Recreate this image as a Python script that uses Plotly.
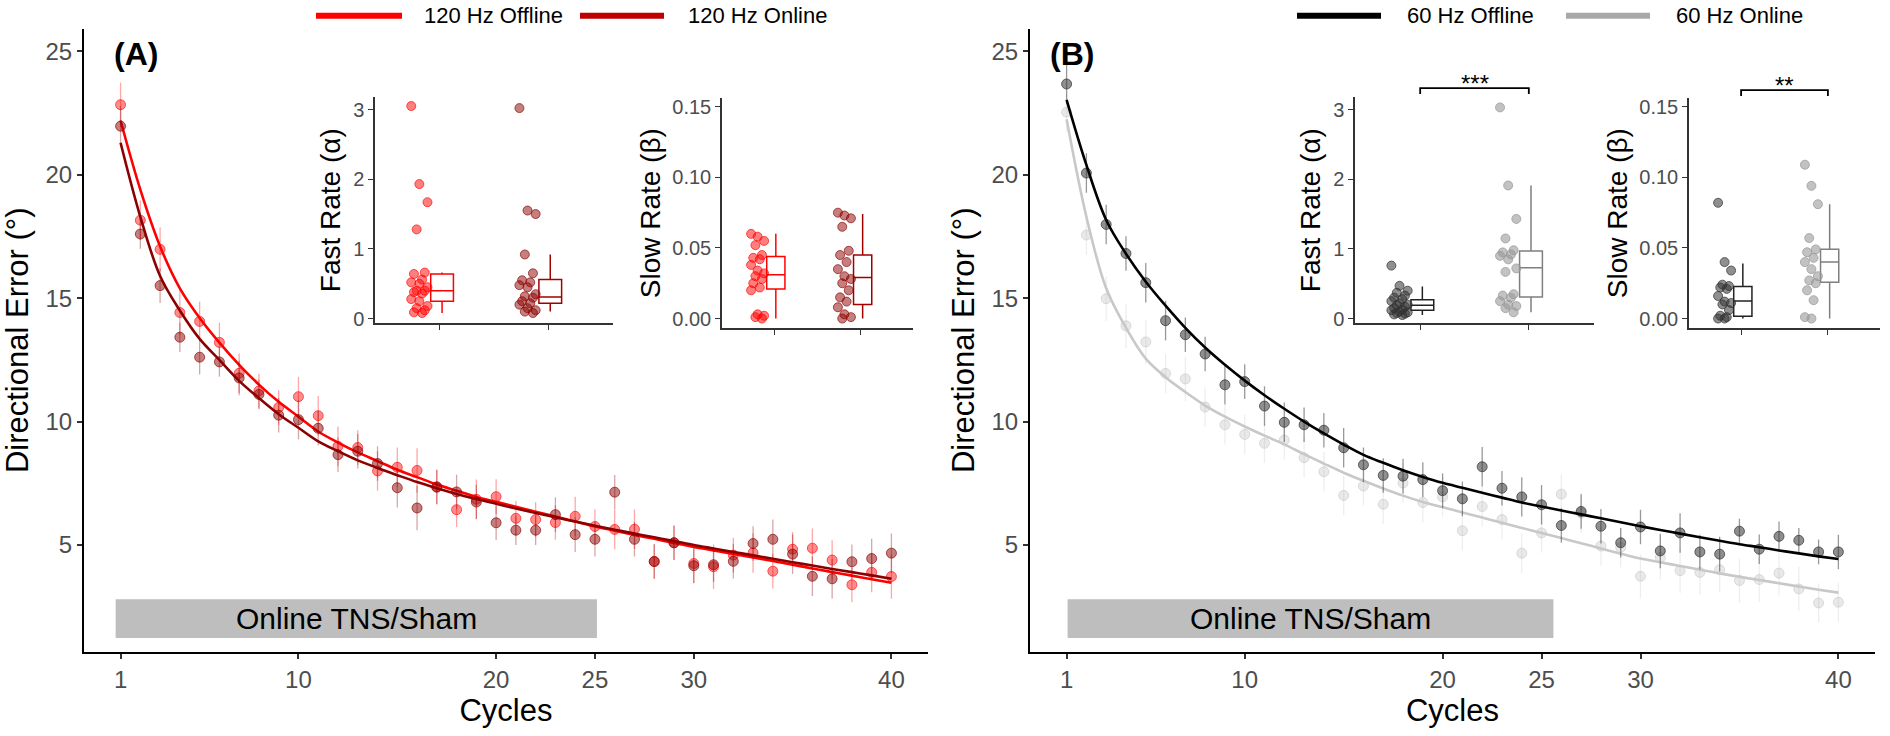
import plotly.graph_objects as go

# ---------------- data ----------------
cycles = list(range(1, 41))

# Panel A: 120 Hz
a_off_mean = [22.84, 18.16, 16.98, 14.42, 14.06, 13.21, 11.96, 11.24, 10.57, 11.01,
              10.24, 9.00, 8.95, 8.00, 8.15, 8.02, 7.36, 6.43, 6.85, 6.96,
              6.08, 6.03, 5.91, 6.16, 5.75, 5.63, 5.64, 4.33, 5.09, 4.25,
              4.12, 4.59, 4.68, 3.94, 4.83, 4.87, 4.39, 3.39, 3.89, 3.72]
a_off_se = [0.9, 0.8, 0.9, 0.9, 0.8, 0.8, 0.8, 0.7, 0.7, 0.8,
            0.8, 0.8, 0.7, 0.8, 0.8, 0.9, 0.7, 0.7, 0.8, 0.7,
            0.7, 0.7, 0.7, 0.8, 0.7, 0.8, 0.8, 0.7, 0.7, 0.8,
            0.9, 0.7, 0.8, 0.7, 0.7, 0.8, 0.8, 0.7, 0.8, 0.9]
a_on_mean = [21.97, 17.60, 15.51, 13.42, 12.61, 12.42, 11.77, 11.10, 10.26, 10.08,
             9.73, 8.66, 8.80, 8.30, 7.32, 6.50, 7.34, 7.15, 6.74, 5.90,
             5.60, 5.60, 6.23, 5.42, 5.23, 7.14, 5.23, 4.33, 5.09, 4.16,
             4.20, 4.34, 5.06, 5.23, 4.63, 3.73, 3.63, 4.32, 4.45, 4.67]
a_on_se = [0.8, 0.6, 0.7, 0.6, 0.7, 0.6, 0.7, 0.6, 0.7, 0.8,
           0.7, 0.7, 0.7, 0.7, 0.8, 0.9, 0.7, 0.7, 0.7, 0.7,
           0.6, 0.6, 0.7, 0.7, 0.7, 0.7, 0.7, 0.7, 0.7, 0.7,
           0.7, 0.7, 0.7, 0.8, 0.8, 0.8, 0.8, 0.7, 0.8, 0.8]
a_off_fit = [22.2, 19.4, 17.1, 15.4, 14.2, 13.2, 12.3, 11.5, 10.8, 10.2,
             9.6, 9.15, 8.75, 8.4, 8.05, 7.75, 7.45, 7.2, 6.95, 6.75,
             6.55, 6.35, 6.15, 5.95, 5.75, 5.58, 5.41, 5.25, 5.08, 4.92,
             4.78, 4.64, 4.49, 4.35, 4.2, 4.05, 3.9, 3.76, 3.61, 3.47]
a_on_fit = [21.3, 18.3, 15.9, 14.5, 13.35, 12.5, 11.65, 10.95, 10.3, 9.75,
            9.2, 8.8, 8.43, 8.12, 7.83, 7.55, 7.3, 7.07, 6.86, 6.67,
            6.48, 6.3, 6.12, 5.95, 5.78, 5.62, 5.46, 5.31, 5.16, 5.0,
            4.86, 4.72, 4.58, 4.44, 4.3, 4.17, 4.03, 3.9, 3.77, 3.63]

# Panel B: 60 Hz
b_off_mean = [23.68, 20.07, 17.99, 16.81, 15.63, 14.09, 13.52, 12.74, 11.49, 11.62,
              10.63, 9.97, 9.87, 9.65, 8.94, 8.25, 7.82, 7.79, 7.65, 7.20,
              6.87, 8.17, 7.30, 6.95, 6.63, 5.79, 6.36, 5.76, 5.09, 5.73,
              4.76, 5.49, 4.72, 4.63, 5.56, 4.83, 5.35, 5.19, 4.72, 4.72]
b_off_se = [0.8, 0.8, 0.8, 0.7, 0.8, 0.8, 0.7, 0.7, 0.8, 0.7,
            0.8, 0.8, 0.7, 0.7, 0.8, 0.7, 0.7, 0.7, 0.7, 0.7,
            0.7, 0.8, 0.7, 0.8, 0.8, 0.7, 0.7, 0.7, 0.6, 0.7,
            0.7, 0.8, 0.7, 0.7, 0.5, 0.6, 0.6, 0.5, 0.5, 0.7]
b_on_mean = [22.54, 17.56, 14.98, 13.88, 13.23, 11.95, 11.73, 10.59, 9.87, 9.48,
             9.12, 9.25, 8.54, 7.97, 7.01, 7.39, 6.65, 7.51, 6.72, 6.95,
             5.58, 6.56, 6.03, 4.67, 5.49, 7.06, 6.30, 4.96, 4.90, 3.73,
             4.49, 3.96, 3.89, 4.00, 3.56, 3.60, 3.86, 3.22, 2.65, 2.68]
b_on_se = [0.8, 0.8, 0.9, 0.9, 0.9, 0.8, 0.9, 0.8, 0.8, 0.8,
           0.8, 0.8, 0.8, 0.8, 0.8, 0.8, 0.8, 0.8, 0.8, 0.8,
           0.8, 0.8, 0.8, 0.8, 0.8, 0.8, 0.8, 0.8, 0.8, 0.9,
           0.9, 0.9, 0.9, 0.9, 0.9, 0.9, 0.9, 0.9, 0.8, 0.8]
b_off_fit = [23.04, 20.4, 18.17, 16.8, 15.67, 14.7, 13.8, 13.0, 12.3, 11.66,
             11.07, 10.52, 10.0, 9.52, 9.07, 8.65, 8.33, 8.03, 7.76, 7.52,
             7.32, 7.12, 6.92, 6.72, 6.56, 6.4, 6.24, 6.08, 5.92, 5.76,
             5.61, 5.46, 5.31, 5.17, 5.03, 4.91, 4.78, 4.66, 4.54, 4.43]
b_on_fit = [22.25, 18.3, 15.4, 13.8, 12.55, 11.8, 11.2, 10.65, 10.2, 9.8,
            9.43, 9.08, 8.68, 8.3, 7.93, 7.6, 7.29, 7.0, 6.74, 6.53,
            6.32, 6.11, 5.9, 5.69, 5.49, 5.28, 5.07, 4.86, 4.65, 4.45,
            4.3, 4.15, 4.0, 3.85, 3.71, 3.58, 3.45, 3.32, 3.19, 3.07]

# Inset data (individual participants)
a_fast_off = [3.05, 1.93, 1.67, 1.28, 0.66, 0.64, 0.56, 0.52, 0.50, 0.45, 0.40,
              0.40, 0.38, 0.36, 0.28, 0.25, 0.18, 0.15, 0.12, 0.09, 0.08]
a_fast_on = [3.02, 1.55, 1.50, 0.92, 0.65, 0.55, 0.52, 0.48, 0.45, 0.35, 0.32,
             0.30, 0.25, 0.22, 0.20, 0.15, 0.12, 0.10, 0.08]
a_slow_off = [0.060, 0.058, 0.055, 0.052, 0.045, 0.043, 0.042, 0.038, 0.034, 0.032,
              0.030, 0.028, 0.025, 0.022, 0.020, 0.003, 0.002, 0.001, 0.000]
a_slow_on = [0.075, 0.073, 0.071, 0.065, 0.048, 0.045, 0.040, 0.035, 0.030, 0.028,
             0.025, 0.020, 0.015, 0.012, 0.008, 0.003, 0.001, 0.000]
b_fast_off = [0.76, 0.47, 0.40, 0.37, 0.33, 0.30, 0.28, 0.25, 0.22, 0.20, 0.19,
              0.17, 0.15, 0.13, 0.12, 0.10, 0.09, 0.08, 0.07, 0.06, 0.05]
b_fast_on = [3.03, 1.91, 1.43, 1.15, 0.98, 0.95, 0.92, 0.90, 0.85, 0.72, 0.67,
             0.35, 0.33, 0.30, 0.25, 0.20, 0.18, 0.15, 0.09]
b_slow_off = [0.082, 0.040, 0.034, 0.024, 0.023, 0.022, 0.021, 0.016, 0.012, 0.011,
              0.010, 0.006, 0.002, 0.001, 0.000, 0.000]
b_slow_on = [0.109, 0.094, 0.081, 0.057, 0.049, 0.047, 0.043, 0.040, 0.035, 0.030,
             0.027, 0.025, 0.020, 0.013, 0.001, 0.000]

# Box statistics: [q1, median, q3, lower whisker, upper whisker]
a_fast_off_box = [0.25, 0.40, 0.64, 0.08, 0.66]
a_fast_on_box = [0.22, 0.31, 0.56, 0.10, 0.92]
a_slow_off_box = [0.021, 0.031, 0.044, 0.000, 0.060]
a_slow_on_box = [0.010, 0.029, 0.045, 0.000, 0.074]
b_fast_off_box = [0.12, 0.19, 0.27, 0.05, 0.46]
b_fast_on_box = [0.31, 0.73, 0.97, 0.09, 1.91]
b_slow_off_box = [0.0016, 0.0124, 0.0227, 0.000, 0.039]
b_slow_on_box = [0.0257, 0.040, 0.0491, 0.000, 0.081]

series_names_a = ["120 Hz Offline", "120 Hz Online"]
series_names_b = ["60 Hz Offline", "60 Hz Online"]
x_ticks = [1, 10, 20, 25, 30, 40]
y_ticks = [5, 10, 15, 20, 25]
fast_ticks = [0, 1, 2, 3]
slow_ticks = [0.00, 0.05, 0.10, 0.15]
stim_label = "Online TNS/Sham"
stim_a = [0.75, 25.1, 1.23, 2.8]
stim_b = [1.05, 25.6, 1.23, 2.8]
sig_labels = ["***", "**"]

# ---------------- styling ----------------
FONT = "Liberation Sans"
RED = "#FF0000"
DRED = "#8B0000"
BLK = "#000000"
GRY = "#C8C8C8"


def rgba(hexc, a):
    h = hexc.lstrip("#")
    r, g, b = int(h[0:2], 16), int(h[2:4], 16), int(h[4:6], 16)
    return f"rgba({r},{g},{b},{a})"


fig = go.Figure()


def add_main(xa, ya, mean, se, fit, col, pt_alpha, bar_alpha, line_col):
    fig.add_trace(go.Scatter(
        x=cycles, y=mean, mode="markers", xaxis=xa, yaxis=ya, showlegend=False,
        marker=dict(size=10, color=rgba(col, pt_alpha),
                    line=dict(color=rgba(col, min(1, pt_alpha + 0.15)), width=1)),
        error_y=dict(type="data", array=se, visible=True, width=0,
                     thickness=1.3, color=rgba(col, bar_alpha))))
    fig.add_trace(go.Scatter(
        x=cycles, y=fit, mode="lines", xaxis=xa, yaxis=ya, showlegend=False,
        line=dict(color=line_col, width=2.6, shape="spline", smoothing=1.0)))


add_main("x", "y", a_off_mean, a_off_se, a_off_fit, RED, 0.45, 0.35, RED)
add_main("x", "y", a_on_mean, a_on_se, a_on_fit, DRED, 0.5, 0.35, DRED)
add_main("x2", "y2", b_on_mean, b_on_se, b_on_fit, "#BBBBBB", 0.32, 0.25, GRY)
add_main("x2", "y2", b_off_mean, b_off_se, b_off_fit, "#333333", 0.55, 0.5, BLK)


def jitter(n, cat):
    return [cat - 0.19 + (((i * 3) % 7) - 3) * 0.025 for i in range(n)]


def add_inset(xa, ya, vals_off, vals_on, box_off, box_on, c_off, c_on,
              a_off, a_on, bl_off, bl_on):
    for cat, vals, col, al in [(1, vals_off, c_off, a_off), (2, vals_on, c_on, a_on)]:
        fig.add_trace(go.Scatter(
            x=jitter(len(vals), cat), y=vals, mode="markers", xaxis=xa, yaxis=ya,
            showlegend=False,
            marker=dict(size=9, color=rgba(col, al),
                        line=dict(color=rgba(col, min(1, al + 0.15)), width=1))))
    for cat, st, bl in [(1, box_off, bl_off), (2, box_on, bl_on)]:
        fig.add_trace(go.Box(
            x=[cat + 0.02], q1=[st[0]], median=[st[1]], q3=[st[2]],
            lowerfence=[st[3]], upperfence=[st[4]], width=0.21,
            whiskerwidth=0, boxpoints=False, fillcolor="white",
            line=dict(color=bl, width=1.5), xaxis=xa, yaxis=ya, showlegend=False))


add_inset("x3", "y3", a_fast_off, a_fast_on, a_fast_off_box, a_fast_on_box,
          RED, DRED, 0.5, 0.5, RED, "#A00000")
add_inset("x4", "y4", a_slow_off, a_slow_on, a_slow_off_box, a_slow_on_box,
          RED, DRED, 0.5, 0.5, RED, "#A00000")
add_inset("x5", "y5", b_fast_off, b_fast_on, b_fast_off_box, b_fast_on_box,
          "#333333", "#999999", 0.55, 0.6, "#222222", "#7F7F7F")
add_inset("x6", "y6", b_slow_off, b_slow_on, b_slow_off_box, b_slow_on_box,
          "#333333", "#999999", 0.55, 0.6, "#222222", "#7F7F7F")

# ---------------- layout ----------------
W, H = 1890, 736


def px_x(a, b):
    return [a / W, b / W]


def px_y(bottom, top):
    return [1 - bottom / H, 1 - top / H]


main_x = dict(range=[-0.85, 41.85], tickvals=x_ticks, showgrid=False, zeroline=False,
              showline=True, linecolor="black", linewidth=2, ticks="outside",
              ticklen=5, tickwidth=1.5, tickcolor="#333333",
              tickfont=dict(family=FONT, size=24, color="#4D4D4D"),
              title=dict(text="Cycles", font=dict(family=FONT, size=31, color="black"),
                         standoff=3))
main_y = dict(range=[0.67, 25.92], tickvals=y_ticks, showgrid=False, zeroline=False,
              showline=True, linecolor="black", linewidth=2, ticks="outside",
              ticklen=5, tickwidth=1.5, tickcolor="#333333",
              tickfont=dict(family=FONT, size=24, color="#4D4D4D"),
              title=dict(text="Directional Error (°)",
                         font=dict(family=FONT, size=31, color="black"), standoff=8))


def inset_x(anchor, dom):
    return dict(domain=dom, anchor=anchor, range=[0.4, 2.6], tickvals=[1, 2],
                showticklabels=False, showgrid=False, zeroline=False, showline=True,
                linecolor="#333333", linewidth=1.5, ticks="outside", ticklen=5,
                tickwidth=1.2, tickcolor="#333333")


def inset_y(anchor, dom, rng, tv, fmt, title):
    return dict(domain=dom, anchor=anchor, range=rng, tickvals=tv, tickformat=fmt,
                showgrid=False, zeroline=False, showline=True, linecolor="#333333",
                linewidth=1.5, ticks="outside", ticklen=5, tickwidth=1.2,
                tickcolor="#333333",
                tickfont=dict(family=FONT, size=20, color="#4D4D4D"),
                title=dict(text=title, font=dict(family=FONT, size=28, color="black"),
                           standoff=4))


fast_dom_y = px_y(325, 96)
slow_dom_y = px_y(330, 97)
fast_rng = [-0.07, 3.18]
slow_rng = [-0.007, 0.1563]

layout = dict(
    width=W, height=H, margin=dict(l=0, r=0, t=0, b=0),
    paper_bgcolor="white", plot_bgcolor="rgba(0,0,0,0)",
    font=dict(family=FONT), showlegend=False,
    xaxis=dict(domain=px_x(84, 928), anchor="y", **main_x),
    yaxis=dict(domain=px_y(657, 27), anchor="x", **main_y),
    xaxis2=dict(domain=px_x(1030, 1875), anchor="y2", **main_x),
    yaxis2=dict(domain=px_y(657, 27), anchor="x2", **main_y),
    xaxis3=inset_x("y3", px_x(375, 613)),
    yaxis3=inset_y("x3", fast_dom_y, fast_rng, fast_ticks, "d", "Fast Rate (α)"),
    xaxis4=inset_x("y4", px_x(722, 913)),
    yaxis4=inset_y("x4", slow_dom_y, slow_rng, slow_ticks, ".2f", "Slow Rate (β)"),
    xaxis5=inset_x("y5", px_x(1355, 1594)),
    yaxis5=inset_y("x5", fast_dom_y, fast_rng, fast_ticks, "d", "Fast Rate (α)"),
    xaxis6=inset_x("y6", px_x(1689, 1880)),
    yaxis6=inset_y("x6", slow_dom_y, slow_rng, slow_ticks, ".2f", "Slow Rate (β)"),
)
fig.update_layout(**layout)

shapes = []
annotations = []

# legend keys (line + label) drawn across the top of each panel
leg_y = 1 - 14 / H
legend_items = [
    (series_names_a[0], RED, 316, 402, 422),
    (series_names_a[1], "#C00000", 580, 664, 686),
    (series_names_b[0], BLK, 1297, 1381, 1405),
    (series_names_b[1], "#A8A8A8", 1566, 1650, 1674),
]
for name, col, lx0, lx1, tx in legend_items:
    shapes.append(dict(type="line", xref="paper", yref="paper", x0=lx0 / W, x1=lx1 / W,
                       y0=leg_y, y1=leg_y, line=dict(color=col, width=6)))
    annotations.append(dict(xref="paper", yref="paper", x=tx / W, y=leg_y, text=name,
                            xanchor="left", yanchor="middle", showarrow=False,
                            font=dict(family=FONT, size=22, color="black")))

for xr, yr, st in [("x", "y", stim_a), ("x2", "y2", stim_b)]:
    shapes.append(dict(type="rect", xref=xr, yref=yr, x0=st[0], x1=st[1], y0=st[2],
                       y1=st[3], fillcolor="#BEBEBE", line=dict(width=0), layer="below"))
    annotations.append(dict(xref=xr, yref=yr, x=(st[0] + st[1]) / 2, y=(st[2] + st[3]) / 2,
                            text=stim_label, showarrow=False,
                            font=dict(family=FONT, size=30, color="black")))

# panel letters
annotations.append(dict(xref="paper", yref="paper", x=112 / W, y=1 - 32 / H,
                        text="<b>(A)</b>", showarrow=False,
                        font=dict(family=FONT, size=32, color="black")))
annotations.append(dict(xref="paper", yref="paper", x=1072 / W, y=1 - 32 / H,
                        text="<b>(B)</b>", showarrow=False,
                        font=dict(family=FONT, size=32, color="black")))

# significance brackets (panel B insets)
for xr, ytop, ybot, ytxt, lab in [("x5", 87, 93, 67, sig_labels[0]),
                                  ("x6", 89, 95, 69, sig_labels[1])]:
    yt, yb = 1 - ytop / H, 1 - ybot / H
    shapes.append(dict(type="path", xref=xr, yref="paper",
                       path=f"M 1,{yb} L 1,{yt} L 2,{yt} L 2,{yb}",
                       line=dict(color="black", width=1.8)))
    annotations.append(dict(xref=xr, yref="paper", x=1.5, y=1 - ytxt / H, text=lab,
                            showarrow=False, font=dict(family=FONT, size=24, color="black")))

fig.update_layout(shapes=shapes, annotations=annotations)
fig.write_html("out.html", config={"displayModeBar": False},
               post_script="document.body.style.margin='0px';"
                           "document.body.style.overflow='hidden';")
